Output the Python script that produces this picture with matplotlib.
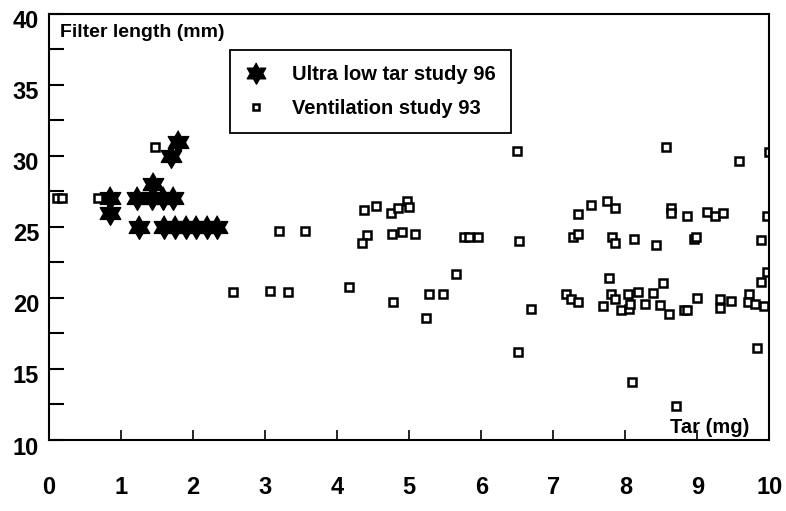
"""Filter length vs tar yield: ultra low tar study vs ventilation study."""

import matplotlib
matplotlib.use("Agg")
import matplotlib.pyplot as plt
import matplotlib.transforms as mtransforms
import numpy as np

plt.rcParams["font.family"] = ["Liberation Sans", "DejaVu Sans"]
plt.rcParams["font.weight"] = "bold"

# Ultra low tar study 96 (stars)
ult_tar = [1.80, 1.70, 1.45, 0.85, 1.22, 1.43, 1.59, 1.73, 0.85,
           1.25, 1.60, 1.75, 1.90, 2.05, 2.20, 2.33]
ult_filter = [31.0, 30.0, 28.0, 27.0, 27.0, 27.0, 27.0, 27.0, 26.0,
              25.0, 25.0, 25.0, 25.0, 25.0, 25.0, 25.0]

# Ventilation study 93 (open squares)
vent_tar = [0.12, 0.19, 0.69, 1.47, 2.55, 3.07, 3.32, 3.19, 3.56, 4.16,
            4.38, 4.54, 4.75, 4.85, 4.97, 5.00, 4.42, 4.35, 4.76, 4.90, 5.08,
            5.76, 5.83, 5.96, 6.52, 5.65, 4.78, 5.28, 5.47, 5.24, 6.51,
            6.50, 8.56, 7.27, 7.34, 7.35, 7.53, 7.74, 7.85, 7.81, 7.85,
            8.12, 8.42, 8.63, 8.63, 8.85, 6.69, 7.17, 7.24, 7.34, 7.69,
            7.77, 7.80, 7.85, 7.94, 8.05, 8.07, 8.03, 8.17, 8.27, 8.38,
            8.52, 8.48, 8.60, 8.81, 8.86, 8.09, 8.70, 9.57, 10.0, 9.13,
            9.25, 9.35, 9.97, 8.95, 8.98, 9.88, 9.97, 9.88, 8.99, 9.31,
            9.31, 9.46, 9.71, 9.70, 9.80, 9.92, 9.82]
vent_filter = [27.0, 27.0, 27.0, 30.6, 20.4, 20.5, 20.4, 24.7, 24.7, 20.8,
               26.2, 26.5, 26.0, 26.3, 26.8, 26.4, 24.4, 23.9, 24.5, 24.65, 24.5,
               24.3, 24.3, 24.3, 24.0, 21.7, 19.7, 20.3, 20.3, 18.6, 16.2,
               30.35, 30.6, 24.3, 24.5, 25.9, 26.55, 26.8, 26.3, 24.3, 23.9,
               24.15, 23.7, 26.3, 26.0, 25.8, 19.2, 20.3, 19.9, 19.7, 19.4,
               21.4, 20.3, 19.9, 19.15, 19.2, 19.6, 20.3, 20.4, 19.6, 20.35,
               21.05, 19.5, 18.9, 19.15, 19.15, 14.1, 12.4, 29.65, 30.3, 26.05,
               25.8, 26.0, 25.8, 24.15, 24.3, 24.1, 21.8, 21.1, 20.0, 19.9,
               19.3, 19.8, 20.3, 19.7, 19.6, 19.4, 16.5]

x_ticks = [0, 1, 2, 3, 4, 5, 6, 7, 8, 9, 10]
y_ticks = [10, 15, 20, 25, 30, 35, 40]


def hexagram_marker():
    # six-pointed star, inner radius of a true Star of David
    ang = np.pi / 2 + np.arange(12) * np.pi / 6
    rad = np.where(np.arange(12) % 2 == 0, 1.0, 1 / np.sqrt(3))
    return np.column_stack([rad * np.cos(ang), rad * np.sin(ang)])


def main() -> int:
    fig = plt.figure(figsize=(7.86, 5.11), dpi=100)
    ax = fig.add_axes([0.062, 0.139, 0.917, 0.834])

    star = hexagram_marker()
    ax.plot(ult_tar, ult_filter, linestyle="none", marker=star,
            markersize=17, color="black", label="Ultra low tar study 96")
    ax.plot(vent_tar, vent_filter, linestyle="none", marker="s",
            markersize=5.5, markerfacecolor="white", markeredgecolor="black",
            markeredgewidth=1.8, label="Ventilation study 93")

    ax.set_xlim(0, 10)
    ax.set_ylim(10, 40)
    ax.set_xticks(x_ticks)
    ax.set_yticks(y_ticks)
    ax.set_yticks(np.arange(12.5, 40, 5), minor=True)

    ax.tick_params(axis="y", which="both", direction="in", length=11,
                   width=1.5, pad=7, labelsize=17, right=False)
    ax.tick_params(axis="x", which="major", direction="in", length=7,
                   width=1.2, pad=26, labelsize=17, top=False)
    for spine in ax.spines.values():
        spine.set_linewidth(1.5)

    # tick labels sit a little below their ticks in the original
    offset = mtransforms.ScaledTranslation(0, -4 / 72, fig.dpi_scale_trans)
    for lab in ax.get_yticklabels():
        lab.set_transform(lab.get_transform() + offset)

    ax.text(0.015, 0.955, "Filter length (mm)", transform=ax.transAxes,
            fontsize=14, fontweight="bold", ha="left", va="center")
    ax.text(0.862, 0.03, "Tar (mg)", transform=ax.transAxes,
            fontsize=14.5, fontweight="bold", ha="left", va="center")

    leg = ax.legend(loc="upper left", bbox_to_anchor=(0.252, 0.915),
                    borderaxespad=0, fancybox=False, framealpha=1,
                    edgecolor="black", prop={"size": 14.5, "weight": "bold"},
                    handlelength=1.0, handletextpad=1.3, labelspacing=0.75,
                    borderpad=0.75, markerscale=0.9)
    leg.get_frame().set_linewidth(1.3)

    fig.savefig("out.png", dpi=100)
    plt.close(fig)
    return 0


if __name__ == "__main__":
    raise SystemExit(main())
